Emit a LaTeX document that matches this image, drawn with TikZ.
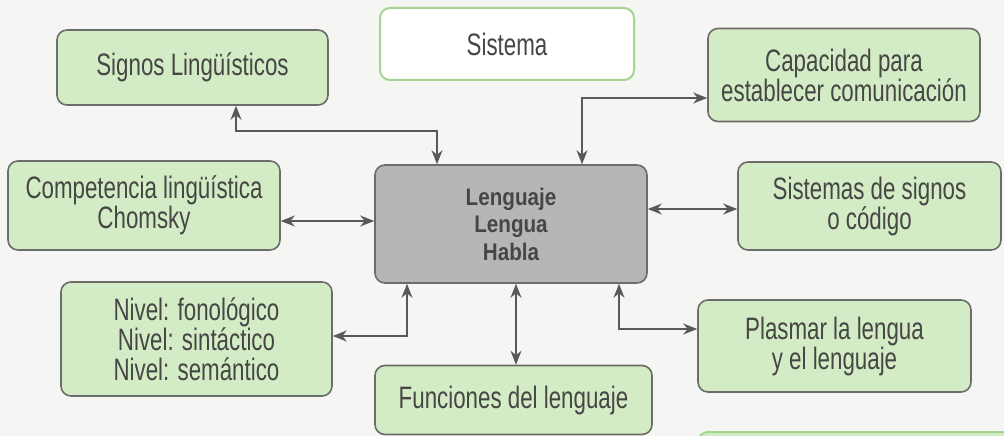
\documentclass[tikz,border=0pt]{standalone}
\usepackage{fontspec}
\setmainfont{Liberation Sans}[FakeStretch=0.72,BoldFeatures={FakeStretch=0.86}]
\usetikzlibrary{arrows.meta}
\definecolor{paper}{RGB}{245,245,243}
\definecolor{boxgreen}{RGB}{212,236,198}
\definecolor{boxline}{RGB}{108,108,106}
\definecolor{lightline}{RGB}{165,212,145}
\definecolor{centergray}{RGB}{182,182,180}
\definecolor{ink}{RGB}{70,70,68}
\begin{document}
\begin{tikzpicture}[x=1pt,y=-1pt,
    box/.style={draw=boxline,line width=1.6pt,fill=boxgreen,rounded corners=10pt,
      align=center,text=ink,inner sep=0pt,font=\fontsize{31}{30}\selectfont},
    link/.style={draw=ink!90,line width=1.6pt,{Stealth[length=14pt,width=11pt]}-{Stealth[length=14pt,width=11pt]}}]
    \useasboundingbox (0,0) rectangle (1004,436);
    \clip (0,0) rectangle (1004,436);
    \fill[paper] (0,0) rectangle (1004,436);
    % boxes
    \node[box,minimum width=271pt,minimum height=75pt] (signos) at (192.5,67.5) {Signos Lingüísticos};
    \node[box,draw=lightline,fill=white,line width=2pt,minimum width=254pt,minimum height=72pt] (sistema) at (507,44) {Sistema};
    \node[box,minimum width=272pt,minimum height=93pt] (capacidad) at (844,75) {Capacidad para\\establecer comunicación};
    \node[box,minimum width=272pt,minimum height=89pt] (competencia) at (144,205.5) {Competencia lingüística\\Chomsky};
    \node[box,fill=centergray,text=ink,font=\fontsize{24}{27.5}\selectfont\bfseries,
      minimum width=272pt,minimum height=118pt] (lenguaje) at (511,224) {Lenguaje\\Lengua\\Habla};
    \node[box,minimum width=263pt,minimum height=88pt] (codigo) at (869.5,206) {Sistemas de signos\\o código};
    \node[box,minimum width=271pt,minimum height=114pt] (nivel) at (196.5,339) {Nivel: fonológico\\Nivel: sintáctico\\Nivel: semántico};
    \node[box,minimum width=277pt,minimum height=69pt] (funciones) at (513.5,400) {Funciones del lenguaje};
    \node[box,minimum width=273pt,minimum height=92pt] (plasmar) at (834.5,346) {Plasmar la lengua\\y el lenguaje};
    \node[box,draw=lightline,line width=2pt,minimum width=320pt,minimum height=60pt] (siguiente) at (858,462) {};
    % connectors
    \draw[link] ([xshift=43.5pt]signos.south) -- ++(0,25) -| ([xshift=-74pt]lenguaje.north);
    \draw[link] ([xshift=71pt]lenguaje.north) |- ([yshift=-23pt]capacidad.west);
    \draw[link] ([yshift=-15.5pt]competencia.east) -- ([yshift=-15.5pt]competencia.east -| lenguaje.west);
    \draw[link] ([yshift=15pt]lenguaje.east) -- ([yshift=15pt]lenguaje.east -| codigo.west);
    \draw[link] ([xshift=-104pt]lenguaje.south) |- ([yshift=3pt]nivel.east);
    \draw[link] ([xshift=5pt]lenguaje.south) -- ([xshift=5pt]lenguaje.south |- funciones.north);
    \draw[link] ([xshift=108pt]lenguaje.south) |- ([yshift=17pt]plasmar.west);
\end{tikzpicture}
\end{document}
